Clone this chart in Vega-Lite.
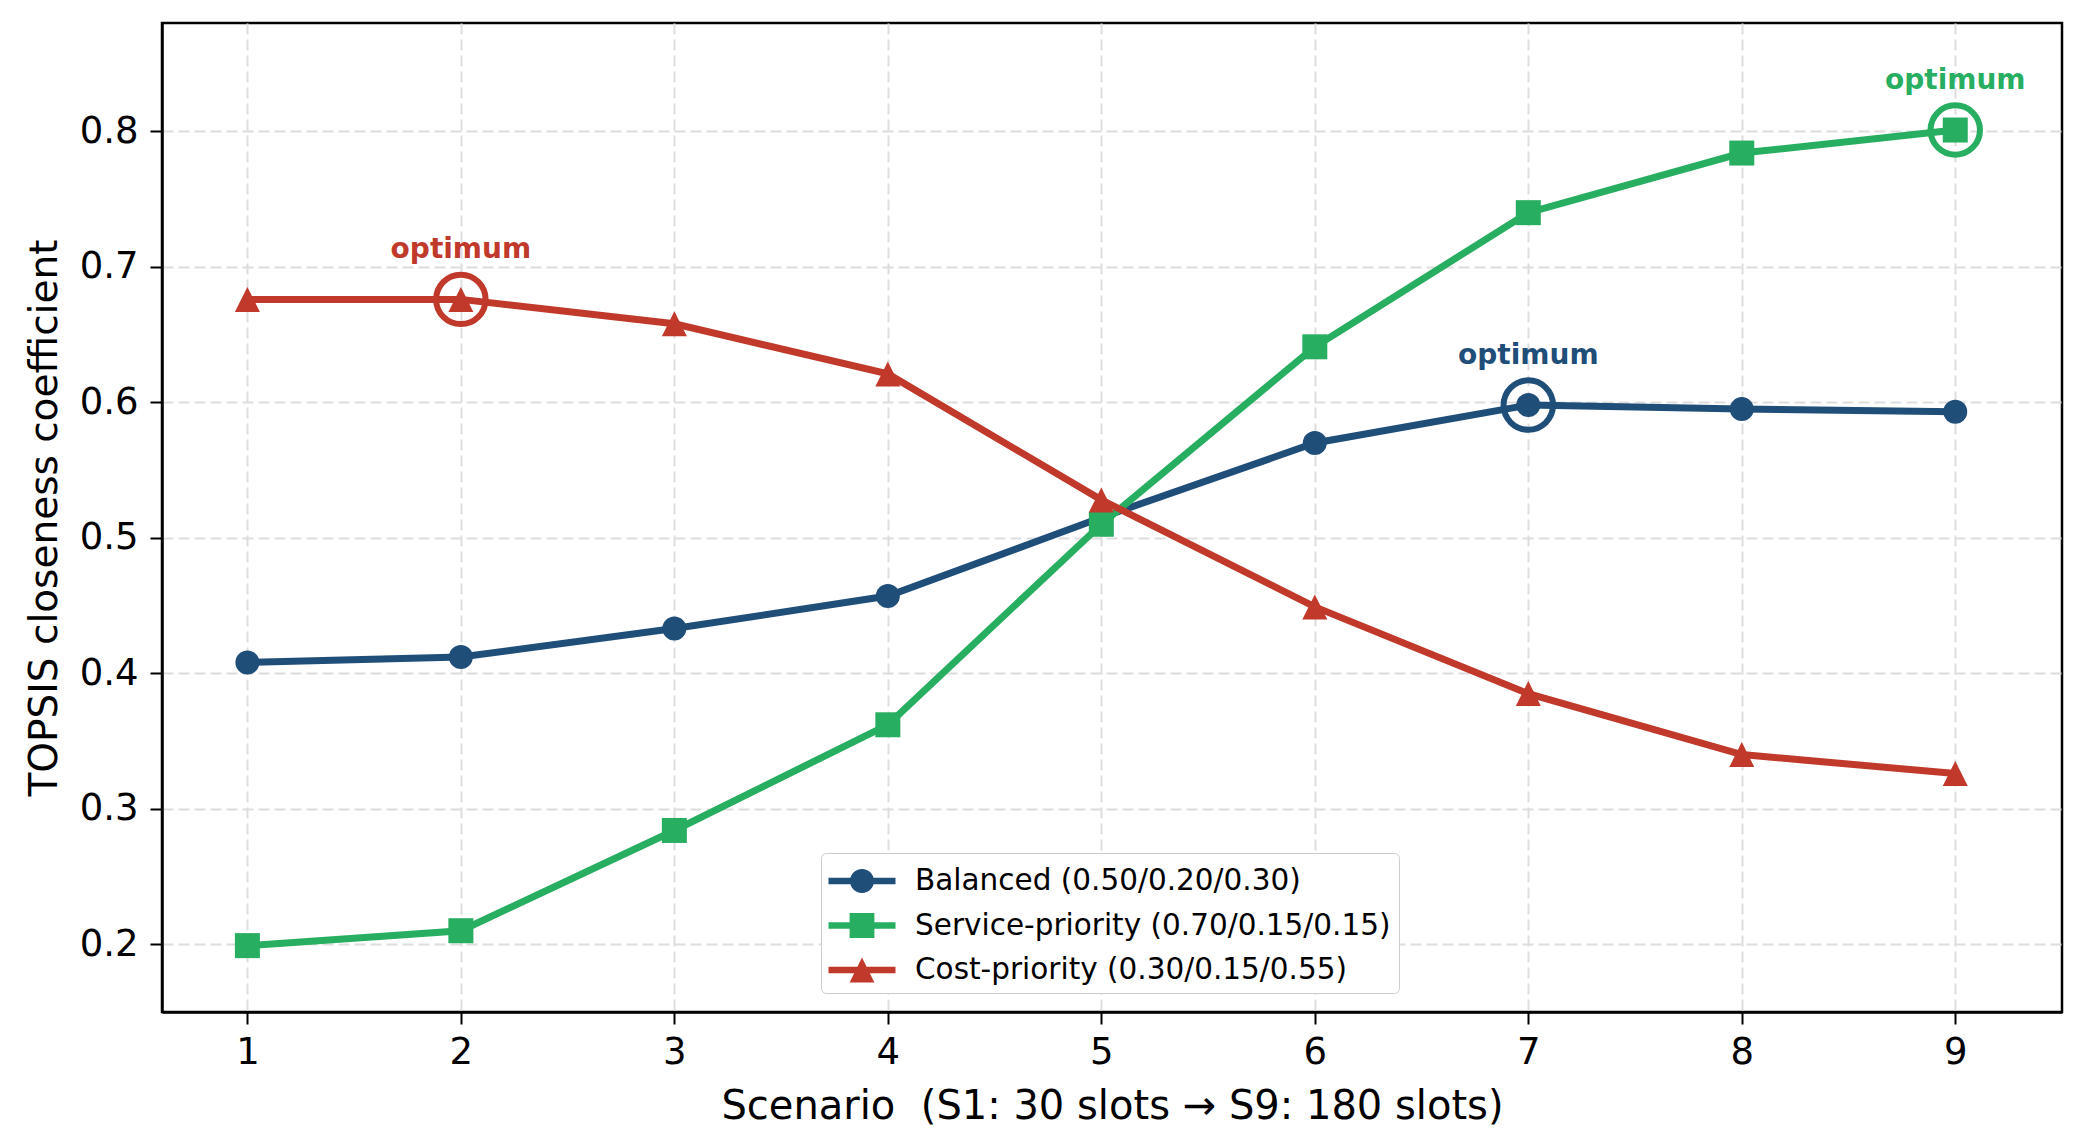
{
  "$schema": "https://vega.github.io/schema/vega-lite/v6.json",
  "width": 1900,
  "height": 989,
  "autosize": {"type": "none"},
  "padding": {"left": 162, "top": 23, "right": 24, "bottom": 132},
  "background": "#ffffff",
  "config": {
    "font": "DejaVu Sans",
    "view": {"stroke": "#000000", "strokeWidth": 2.5},
    "axis": {
      "domainColor": "#000000",
      "domainWidth": 2.5,
      "tickColor": "#000000",
      "tickWidth": 2,
      "tickSize": 12,
      "labelFont": "DejaVu Sans",
      "labelFontSize": 37,
      "labelColor": "#000000",
      "labelFlush": false,
      "titleFont": "DejaVu Sans",
      "titleFontSize": 39,
      "titleFontWeight": "normal",
      "titleColor": "#000000",
      "grid": true,
      "gridColor": "#dddddd",
      "gridDash": [11, 5],
      "gridWidth": 2
    }
  },
  "data": {
    "values": [
      {"scenario": 1, "series": "Balanced (0.50/0.20/0.30)", "score": 0.408, "optimum": false},
      {"scenario": 2, "series": "Balanced (0.50/0.20/0.30)", "score": 0.412, "optimum": false},
      {"scenario": 3, "series": "Balanced (0.50/0.20/0.30)", "score": 0.433, "optimum": false},
      {"scenario": 4, "series": "Balanced (0.50/0.20/0.30)", "score": 0.457, "optimum": false},
      {"scenario": 5, "series": "Balanced (0.50/0.20/0.30)", "score": 0.515, "optimum": false},
      {"scenario": 6, "series": "Balanced (0.50/0.20/0.30)", "score": 0.570, "optimum": false},
      {"scenario": 7, "series": "Balanced (0.50/0.20/0.30)", "score": 0.598, "optimum": true},
      {"scenario": 8, "series": "Balanced (0.50/0.20/0.30)", "score": 0.595, "optimum": false},
      {"scenario": 9, "series": "Balanced (0.50/0.20/0.30)", "score": 0.593, "optimum": false},
      {"scenario": 1, "series": "Service-priority (0.70/0.15/0.15)", "score": 0.199, "optimum": false},
      {"scenario": 2, "series": "Service-priority (0.70/0.15/0.15)", "score": 0.210, "optimum": false},
      {"scenario": 3, "series": "Service-priority (0.70/0.15/0.15)", "score": 0.284, "optimum": false},
      {"scenario": 4, "series": "Service-priority (0.70/0.15/0.15)", "score": 0.362, "optimum": false},
      {"scenario": 5, "series": "Service-priority (0.70/0.15/0.15)", "score": 0.510, "optimum": false},
      {"scenario": 6, "series": "Service-priority (0.70/0.15/0.15)", "score": 0.641, "optimum": false},
      {"scenario": 7, "series": "Service-priority (0.70/0.15/0.15)", "score": 0.740, "optimum": false},
      {"scenario": 8, "series": "Service-priority (0.70/0.15/0.15)", "score": 0.784, "optimum": false},
      {"scenario": 9, "series": "Service-priority (0.70/0.15/0.15)", "score": 0.801, "optimum": true},
      {"scenario": 1, "series": "Cost-priority (0.30/0.15/0.55)", "score": 0.676, "optimum": false},
      {"scenario": 2, "series": "Cost-priority (0.30/0.15/0.55)", "score": 0.676, "optimum": true},
      {"scenario": 3, "series": "Cost-priority (0.30/0.15/0.55)", "score": 0.658, "optimum": false},
      {"scenario": 4, "series": "Cost-priority (0.30/0.15/0.55)", "score": 0.621, "optimum": false},
      {"scenario": 5, "series": "Cost-priority (0.30/0.15/0.55)", "score": 0.528, "optimum": false},
      {"scenario": 6, "series": "Cost-priority (0.30/0.15/0.55)", "score": 0.449, "optimum": false},
      {"scenario": 7, "series": "Cost-priority (0.30/0.15/0.55)", "score": 0.385, "optimum": false},
      {"scenario": 8, "series": "Cost-priority (0.30/0.15/0.55)", "score": 0.340, "optimum": false},
      {"scenario": 9, "series": "Cost-priority (0.30/0.15/0.55)", "score": 0.326, "optimum": false}
    ]
  },
  "encoding": {
    "x": {
      "field": "scenario",
      "type": "quantitative",
      "scale": {"domain": [0.6, 9.5], "nice": false, "zero": false},
      "axis": {
        "values": [1, 2, 3, 4, 5, 6, 7, 8, 9],
        "format": "d",
        "title": "Scenario\u00a0 (S1: 30 slots \u2192 S9: 180 slots)",
        "titleFontSize": 40,
        "labelPadding": 10,
        "titlePadding": 16
      }
    },
    "y": {
      "field": "score",
      "type": "quantitative",
      "scale": {"domain": [0.15, 0.88], "nice": false, "zero": false},
      "axis": {
        "values": [0.2, 0.3, 0.4, 0.5, 0.6, 0.7, 0.8],
        "format": ".1f",
        "title": "TOPSIS closeness coefficient",
        "labelPadding": 12,
        "titlePadding": 15
      }
    }
  },
  "layer": [
    {
      "mark": {"type": "line", "strokeWidth": 7},
      "encoding": {
        "color": {
          "field": "series",
          "type": "nominal",
          "scale": {
            "domain": ["Service-priority (0.70/0.15/0.15)", "Balanced (0.50/0.20/0.30)", "Cost-priority (0.30/0.15/0.55)"],
            "range": ["#27ae60", "#1f4e79", "#c0392b"]
          },
          "legend": null
        }
      }
    },
    {
      "transform": [{"filter": {"field": "series", "equal": "Balanced (0.50/0.20/0.30)"}}],
      "mark": {"type": "point", "shape": "circle", "filled": true, "size": 576, "opacity": 1},
      "encoding": {"color": {"field": "series", "type": "nominal", "legend": null}}
    },
    {
      "transform": [{"filter": {"field": "series", "equal": "Service-priority (0.70/0.15/0.15)"}}],
      "mark": {"type": "point", "shape": "square", "filled": true, "size": 625, "opacity": 1},
      "encoding": {"color": {"field": "series", "type": "nominal", "legend": null}}
    },
    {
      "transform": [{"filter": {"field": "series", "equal": "Cost-priority (0.30/0.15/0.55)"}}],
      "mark": {"type": "point", "shape": "M0,-1L1,1L-1,1Z", "filled": true, "size": 625, "opacity": 1},
      "encoding": {"color": {"field": "series", "type": "nominal", "legend": null}}
    },
    {
      "transform": [{"filter": "datum.optimum"}],
      "mark": {"type": "point", "shape": "circle", "filled": false, "size": 2440, "strokeWidth": 6, "opacity": 1},
      "encoding": {"color": {"field": "series", "type": "nominal", "legend": null}}
    },
    {
      "transform": [{"filter": "datum.optimum"}],
      "mark": {"type": "text", "text": "optimum", "font": "DejaVu Sans", "fontSize": 28, "fontWeight": "bold", "align": "center", "baseline": "alphabetic", "dy": -41},
      "encoding": {"color": {"field": "series", "type": "nominal", "legend": null}}
    },
    {
      "mark": {"type": "point", "filled": true, "opacity": 0},
      "encoding": {
        "fill": {
          "field": "series",
          "type": "nominal",
          "scale": {
            "domain": ["Balanced (0.50/0.20/0.30)", "Service-priority (0.70/0.15/0.15)", "Cost-priority (0.30/0.15/0.55)"],
            "range": ["#1f4e79", "#27ae60", "#c0392b"]
          }
        },
        "shape": {
          "field": "series",
          "type": "nominal",
          "scale": {
            "domain": ["Balanced (0.50/0.20/0.30)", "Service-priority (0.70/0.15/0.15)", "Cost-priority (0.30/0.15/0.55)"],
            "range": [
              "M-1.675,-0.16H1.675V0.16H-1.675Z M0.6,0A0.6,0.6 0 1,1 -0.6,0A0.6,0.6 0 1,1 0.6,0Z",
              "M-1.675,-0.16H1.675V0.16H-1.675Z M-0.62,-0.62H0.62V0.62H-0.62Z",
              "M-1.675,-0.16H1.675V0.16H-1.675Z M0,-0.62L0.62,0.62H-0.62Z"
            ]
          },
          "legend": {
            "title": null,
            "orient": "none",
            "legendX": 659,
            "legendY": 830,
            "padding": 8,
            "fillColor": "#ffffff",
            "strokeColor": "#cccccc",
            "cornerRadius": 5,
            "symbolSize": 1600,
            "symbolOffset": 13,
            "symbolOpacity": 1,
            "symbolStrokeWidth": 0,
            "labelOffset": 33,
            "labelFont": "DejaVu Sans",
            "labelFontSize": 29.5,
            "labelColor": "#000000",
            "labelLimit": 0,
            "rowPadding": 9.5,
            "encode": {
              "legend": {
                "strokeWidth": {"value": 2}
              },
              "symbols": {
                "opacity": {"value": 1},
                "strokeWidth": {"value": 0}
              }
            }
          }
        }
      }
    }
  ]
}
